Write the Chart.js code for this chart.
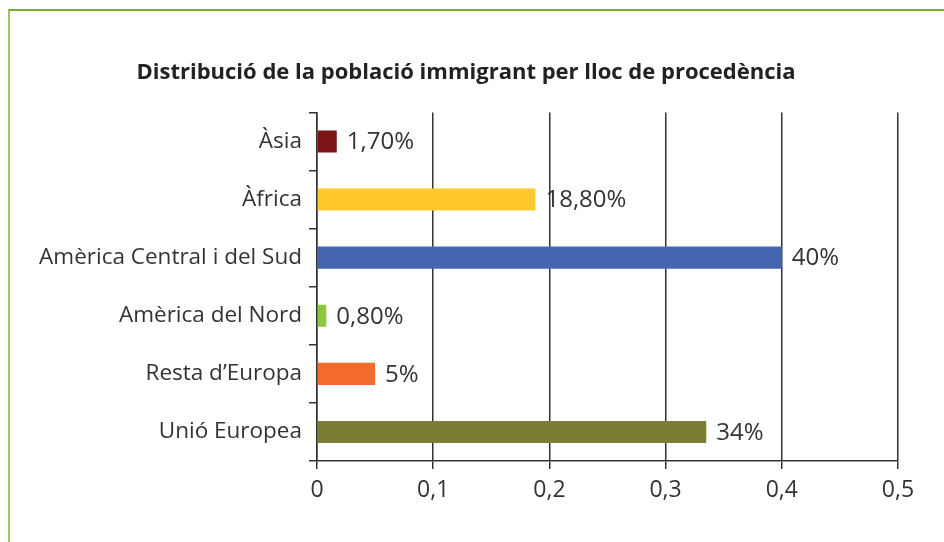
<!DOCTYPE html>
<html>
<head>
<meta charset="utf-8">
<script src="https://cdn.jsdelivr.net/npm/chart.js@4"></script>
<style>
  body { margin: 0; background: #fff; }
  #wrap { position: relative; width: 944px; height: 542px; }
  #frame { position: absolute; left: 8px; top: 9px; right: 0; bottom: 0;
           border-top: 2px solid #76ad2b; border-left: 2px solid #9cc368; }
  canvas { position: absolute; left: 0; top: 0; }
</style>
</head>
<body>
<div id="wrap">
  <div id="frame"></div>
  <canvas id="chart" width="944" height="542"></canvas>
</div>
<script>
const categories = ["Àsia", "Àfrica", "Amèrica Central i del Sud", "Amèrica del Nord", "Resta d’Europa", "Unió Europea"];
const shares = [0.017, 0.188, 0.40, 0.008, 0.05, 0.335];
const shareLabels = ["1,70%", "18,80%", "40%", "0,80%", "5%", "34%"];
const barColors = ["#7b1416", "#ffc82c", "#4466b0", "#8dc63f", "#f26b2b", "#7a7d33"];

const fontFamily = "'Open Sans', sans-serif";
const ink = "#333333";

// writes the percentage next to each bar
const valueLabels = {
  id: "valueLabels",
  afterDatasetsDraw(chart) {
    const ctx = chart.ctx;
    const meta = chart.getDatasetMeta(0);
    ctx.save();
    ctx.font = "24px " + fontFamily;
    ctx.fillStyle = ink;
    ctx.textBaseline = "middle";
    meta.data.forEach((bar, i) => {
      ctx.fillText(shareLabels[i], bar.x + 10, bar.y + 1);
    });
    ctx.restore();
  }
};

new Chart(document.getElementById("chart"), {
  type: "bar",
  data: {
    labels: categories,
    datasets: [{
      data: shares,
      backgroundColor: barColors,
      categoryPercentage: 1,
      barPercentage: 0.38
    }]
  },
  plugins: [valueLabels],
  options: {
    indexAxis: "y",
    responsive: false,
    animation: false,
    layout: { padding: { left: 34, right: 46, top: 0, bottom: 0 } },
    plugins: {
      legend: { display: false },
      tooltip: { enabled: false },
      title: {
        display: true,
        text: "Distribució de la població immigrant per lloc de procedència",
        color: "#222",
        font: { family: fontFamily, size: 22, weight: "bold" },
        padding: { top: 60, bottom: 26 }
      }
    },
    scales: {
      x: {
        min: 0,
        max: 0.5,
        ticks: {
          stepSize: 0.1,
          color: ink,
          padding: 8,
          font: { family: fontFamily, size: 23 },
          callback: v => v === 0 ? "0" : v.toFixed(1).replace(".", ",")
        },
        grid: { color: ink, lineWidth: 1.5, tickLength: 8 },
        border: { color: ink, width: 1.5 },
        afterFit: s => { s.height = 81; }
      },
      y: {
        ticks: {
          color: ink,
          padding: 7,
          font: { family: fontFamily, size: 22.5 }
        },
        grid: { drawOnChartArea: false, color: ink, lineWidth: 1.5, tickLength: 8, offset: true },
        border: { color: ink, width: 1.5 },
        afterFit: s => { s.width = 283; }
      }
    }
  }
});
</script>
</body>
</html>
